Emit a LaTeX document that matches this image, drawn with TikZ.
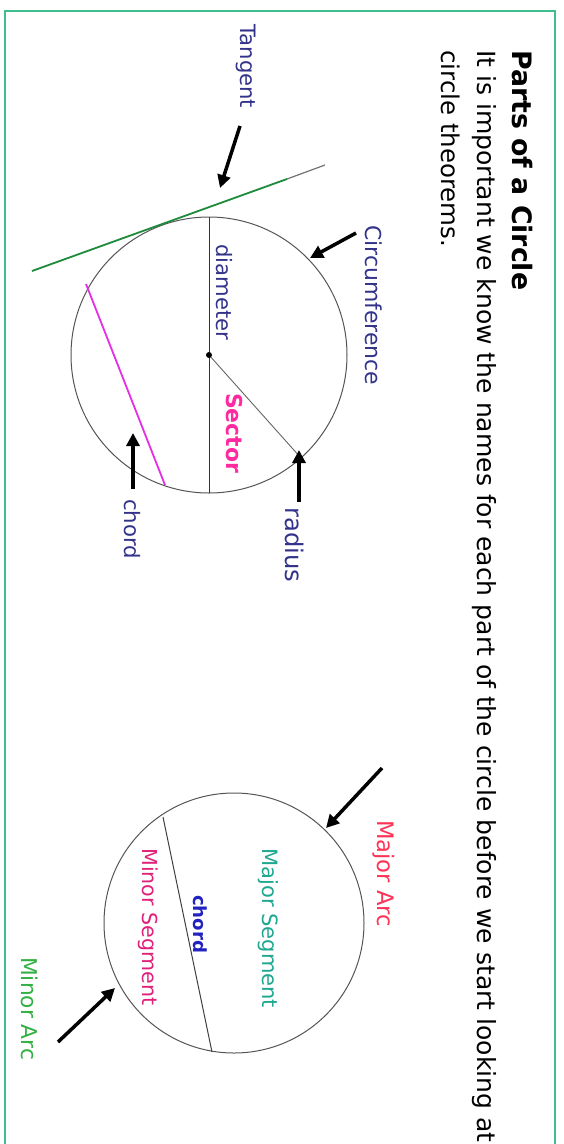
\documentclass[tikz,border=0pt]{standalone}
\usepackage{fontspec}
\setmainfont{DejaVu Sans}
\usepackage{graphicx}
\usetikzlibrary{arrows.meta}
\definecolor{navy}{HTML}{33338C}
\definecolor{bordergreen}{HTML}{3FBF8F}
\definecolor{tangentgreen}{HTML}{1E8A3C}
\definecolor{sectormag}{HTML}{FF2AA0}
\definecolor{chordmag}{HTML}{E62EE6}
\definecolor{majarc}{HTML}{FF3355}
\definecolor{majseg}{HTML}{1FA890}
\definecolor{minseg}{HTML}{E0207A}
\definecolor{chordblue}{HTML}{2222C0}
\definecolor{minarc}{HTML}{33B044}
\definecolor{circgray}{HTML}{555555}
\newcommand{\fitw}[2]{\resizebox{#1pt}{!}{#2}}
\begin{document}
\begin{tikzpicture}[x=1pt,y=-1pt,
  lbl/.style={rotate=-90,anchor=west,inner sep=0pt},
  pointer/.style={line width=3.5pt,-{Triangle[length=13pt,width=13pt]}},
  outline/.style={draw=circgray,line width=1pt},
  border/.style={draw=bordergreen,line width=2.5pt}]
\useasboundingbox (0,0) rectangle (563,1144);
\fill[white] (0,0) rectangle (563,1144);
\begin{scope}
  \clip (0,0) rectangle (563,1144);
  \draw[border] (5,11) rectangle (555,1180);
\end{scope}

% header text
\node[lbl] (title) at (522,50) {\fitw{240}{\bfseries Parts of a Circle}};
\node[lbl] (line1) at (484,50) {\fitw{1092}{It is important we know the names for each part of the circle before we start looking at}};
\node[lbl] (line2) at (451,50) {\fitw{197}{circle theorems.}};

% ---- first circle ----
\coordinate (c1) at (209,355);
\draw[outline] (c1) circle[radius=138pt];
\coordinate (d1) at (209,217);
\coordinate (d2) at (209,493);
\draw[draw=black!80,line width=1pt] (d1) -- (d2);
\coordinate (r1) at (301,458);
\draw[draw=black!60,line width=0.9pt] (c1) -- (r1);
\fill[black] (c1) circle[radius=3pt];
% tangent
\coordinate (t1) at (32,271);
\coordinate (t2) at (287,179);
\coordinate (t3) at (325,165);
\draw[tangentgreen,line width=1.8pt] (t1) -- (t2);
\draw[black!55,line width=1.2pt] (t2) -- (t3);
% chord
\coordinate (ch1) at (86,284);
\coordinate (ch2) at (165,485);
\draw[chordmag,line width=1.8pt] (ch1) -- (ch2);

% labels first circle
\node[lbl,text=navy] (tangent) at (246,24) {\fitw{84}{Tangent}};
\node[lbl,text=navy] (circumference) at (374,225) {\fitw{160}{Circumference}};
\node[lbl,text=navy] (diameter) at (224,244) {\fitw{96}{diameter}};
\node[lbl,text=sectormag] (sector) at (234,393) {\fitw{80}{\bfseries Sector}};
\node[lbl,text=navy] (radius) at (295,507) {\fitw{75}{radius}};
\node[lbl,text=navy] (chord) at (132,499) {\fitw{60}{chord}};

% pointers first circle
\coordinate (pt1) at (240,126); \coordinate (pt2) at (220,188);
\draw[pointer] (pt1) -- (pt2);
\coordinate (pc1) at (356,233); \coordinate (pc2) at (310,258);
\draw[pointer] (pc1) -- (pc2);
\coordinate (pr1) at (299,502); \coordinate (pr2) at (299,450);
\draw[pointer] (pr1) -- (pr2);
\coordinate (pch1) at (133,489); \coordinate (pch2) at (133,433);
\draw[pointer] (pch1) -- (pch2);

% ---- second circle ----
\coordinate (c2) at (234,923);
\draw[outline] (c2) circle[radius=130pt];
\coordinate (k1) at (163,817);
\coordinate (k2) at (212,1052);
\draw[black!75,line width=1pt] (k1) -- (k2);

\node[lbl,text=majarc] (majorarc) at (384,820) {\fitw{107}{Major Arc}};
\node[lbl,text=majseg] (majorseg) at (268,848) {\fitw{160}{Major Segment}};
\node[lbl,text=chordblue] (chord2) at (200,895) {\fitw{58}{\bfseries chord}};
\node[lbl,text=minseg] (minorseg) at (148,848) {\fitw{157}{Minor Segment}};
\node[lbl,text=minarc] (minorarc) at (30,957) {\fitw{103}{Minor Arc}};

\coordinate (pa1) at (382,768); \coordinate (pa2) at (326,828);
\draw[pointer] (pa1) -- (pa2);
\coordinate (pb1) at (58,1042); \coordinate (pb2) at (115,988);
\draw[pointer] (pb1) -- (pb2);
\end{tikzpicture}
\end{document}
